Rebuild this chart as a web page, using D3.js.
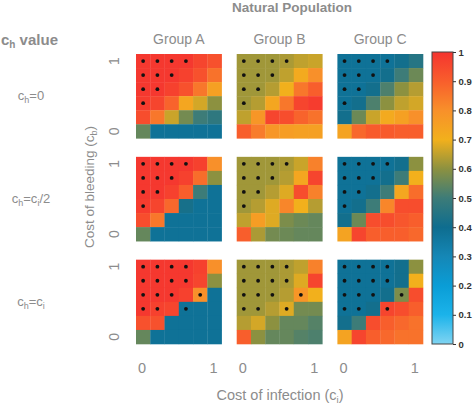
<!DOCTYPE html>
<html><head><meta charset="utf-8">
<script src="https://cdn.jsdelivr.net/npm/d3@7"></script>
<style>body{margin:0;background:#fff}svg{display:block;font-family:"Liberation Sans",Arial,sans-serif}</style>
</head><body><svg id="c" width="473" height="405"></svg>
<script>
// categories
const groups = ["Group A", "Group B", "Group C"];
const ciLevels = [0, 1, 2, 3, 4, 5];
const cbLevels = [5, 4, 3, 2, 1, 0]; // top row = cb 1
const axisTicks = ["0", "1"];
const cbarTicks = [0, 0.1, 0.2, 0.3, 0.4, 0.5, 0.6, 0.7, 0.8, 0.9, 1];

// values (rows top->bottom = cb 1 -> 0, cols = ci 0 -> 1)
const A_ch0 = [
  [0.99,0.99,0.99,0.99,0.96,0.93],
  [0.99,0.99,0.99,0.97,0.93,0.86],
  [0.99,0.99,0.97,0.93,0.85,0.75],
  [0.98,0.96,0.89,0.73,0.67,0.60],
  [0.94,0.85,0.66,0.57,0.50,0.47],
  [0.55,0.38,0.38,0.38,0.38,0.38]];
const B_ch0 = [
  [0.62,0.62,0.62,0.63,0.65,0.66],
  [0.62,0.62,0.62,0.65,0.72,0.80],
  [0.62,0.62,0.64,0.70,0.85,0.90],
  [0.62,0.64,0.73,0.85,0.96,0.98],
  [0.65,0.78,0.96,0.94,0.89,0.86],
  [0.90,0.84,0.78,0.76,0.75,0.75]];
const C_ch0 = [
  [0.38,0.38,0.38,0.38,0.41,0.45],
  [0.38,0.38,0.38,0.41,0.50,0.56],
  [0.38,0.38,0.41,0.52,0.60,0.64],
  [0.38,0.41,0.52,0.60,0.65,0.67],
  [0.41,0.56,0.66,0.72,0.75,0.80],
  [0.74,0.88,0.91,0.91,0.90,0.90]];
const A_chHalf = [
  [0.99,0.99,0.99,0.99,0.97,0.80],
  [0.99,0.99,0.99,0.97,0.87,0.60],
  [0.99,0.99,0.97,0.90,0.50,0.38],
  [0.98,0.96,0.88,0.42,0.38,0.38],
  [0.94,0.85,0.38,0.38,0.38,0.38],
  [0.55,0.38,0.38,0.38,0.38,0.38]];
const B_chHalf = [
  [0.62,0.62,0.62,0.63,0.66,0.83],
  [0.62,0.62,0.62,0.64,0.73,0.96],
  [0.62,0.62,0.64,0.68,0.94,0.83],
  [0.62,0.64,0.68,0.82,0.70,0.64],
  [0.65,0.76,0.68,0.58,0.56,0.55],
  [0.90,0.63,0.57,0.56,0.55,0.55]];
const C_chHalf = [
  [0.38,0.38,0.38,0.38,0.41,0.60],
  [0.38,0.38,0.38,0.41,0.50,0.70],
  [0.38,0.38,0.41,0.50,0.73,0.87],
  [0.38,0.41,0.50,0.82,0.94,0.94],
  [0.41,0.56,0.94,0.94,0.92,0.90],
  [0.74,0.96,0.90,0.90,0.90,0.88]];
const A_chFull = [
  [0.99,0.99,0.99,0.99,0.97,0.80],
  [0.99,0.99,0.99,0.99,0.96,0.60],
  [0.99,0.99,0.99,0.97,0.80,0.38],
  [0.99,0.97,0.96,0.38,0.38,0.38],
  [0.93,0.93,0.38,0.38,0.38,0.38],
  [0.55,0.38,0.38,0.38,0.38,0.38]];
const B_chFull = [
  [0.62,0.62,0.62,0.63,0.65,0.83],
  [0.62,0.62,0.62,0.63,0.68,0.96],
  [0.62,0.62,0.62,0.64,0.78,0.70],
  [0.62,0.62,0.64,0.68,0.57,0.57],
  [0.64,0.67,0.60,0.55,0.55,0.53],
  [0.90,0.60,0.55,0.55,0.53,0.52]];
const C_chFull = [
  [0.38,0.38,0.38,0.38,0.41,0.60],
  [0.38,0.38,0.38,0.38,0.41,0.70],
  [0.38,0.38,0.38,0.41,0.58,0.94],
  [0.38,0.38,0.41,0.96,0.94,0.90],
  [0.41,0.50,0.94,0.90,0.88,0.86],
  [0.74,0.96,0.90,0.88,0.86,0.86]];

// dots (row index, col index) per ch row
const dots_ch0 = [[0,0],[0,1],[0,2],[0,3],[1,0],[1,1],[1,2],[2,0],[2,1],[3,0]];
const dots_chHalf = [[0,0],[0,1],[0,2],[0,3],[1,0],[1,1],[1,2],[2,0],[2,1],[3,0]];
const dots_chFull = [[0,0],[0,1],[0,2],[0,3],[1,0],[1,1],[1,2],[1,3],[2,0],[2,1],[2,2],[2,4],[3,0],[3,1],[3,3]];

// colormap stops
const cmapStops = [0, 0.1, 0.2, 0.3, 0.4, 0.5, 0.6, 0.7, 0.8, 0.9, 1];
const cmapColors = ["#80d4f2","#1bb3ea","#0a9dd6","#1587b6","#0e6d8f","#3d7c78","#8c9140","#f2b01c","#f8902a","#f85e2c","#f5342f"];

const matrices = [[A_ch0, B_ch0, C_ch0],[A_chHalf, B_chHalf, C_chHalf],[A_chFull, B_chFull, C_chFull]];
const dotSets = [dots_ch0, dots_chHalf, dots_chFull];

const svg = d3.select("#c");
const grey = "#8c8c8c";
const color = d3.scaleLinear().domain(cmapStops).range(cmapColors).interpolate(d3.interpolateRgb);

const colX = d3.scaleBand().domain([0,1,2]).range([136, 423]).paddingInner(0.15);
const rowY = d3.scaleBand().domain([0,1,2]).range([54, 344]).paddingInner(0.18);
const size = colX.bandwidth();
const cx = d3.scaleBand().domain(ciLevels).range([0, size]);
const cy = d3.scaleBand().domain(cbLevels).range([0, rowY.bandwidth()]);

matrices.forEach((rowM, r) => {
  rowM.forEach((M, c) => {
    const g = svg.append("g").attr("transform", `translate(${colX(c)},${rowY(r)})`);
    const cells = [];
    M.forEach((row, i) => row.forEach((v, j) => cells.push({i, j, v})));
    g.selectAll("rect").data(cells).join("rect")
      .attr("x", d => cx(ciLevels[d.j]))
      .attr("y", d => cy(cbLevels[d.i]))
      .attr("width", cx.bandwidth() + 0.3)
      .attr("height", cy.bandwidth() + 0.3)
      .attr("fill", d => color(d.v));
    g.selectAll("circle").data(dotSets[r]).join("circle")
      .attr("cx", d => cx(ciLevels[d[1]]) + cx.bandwidth()/2)
      .attr("cy", d => cy(cbLevels[d[0]]) + cy.bandwidth()/2)
      .attr("r", 1.9).attr("fill", "#111");
  });
  // y tick labels
  [ [axisTicks[1], cbLevels[0]], [axisTicks[0], cbLevels[5]] ].forEach(([t, lv]) => {
    const yy = rowY(r) + cy(lv) + cy.bandwidth()/2;
    svg.append("text").attr("transform", `translate(119,${yy}) rotate(-90)`)
      .attr("text-anchor", "middle").attr("font-size", 14).attr("fill", grey).text(t);
  });
});

// x tick labels and group titles
[0,1,2].forEach(c => {
  [[axisTicks[0], ciLevels[0]], [axisTicks[1], ciLevels[5]]].forEach(([t, lv]) => {
    svg.append("text").attr("x", colX(c) + cx(lv) + cx.bandwidth()/2 - 1).attr("y", 373)
      .attr("text-anchor", "middle").attr("font-size", 14.5).attr("fill", grey).text(t);
  });
  svg.append("text").attr("x", colX(c) + size/2).attr("y", 44)
    .attr("text-anchor", "middle").attr("font-size", 14).attr("fill", grey).text(groups[c]);
});

// title
svg.append("text").attr("x", 292).attr("y", 12).attr("text-anchor", "middle")
  .attr("font-size", 13.5).attr("font-weight", "bold").attr("fill", grey).text("Natural Population");

// ch value
const chv = svg.append("text").attr("x", 1).attr("y", 45).attr("font-size", 15)
  .attr("font-weight", "bold").attr("fill", grey);
chv.append("tspan").attr("fill", grey).text("c");
chv.append("tspan").attr("fill", grey).attr("font-size", 10).attr("dy", 3).text("h");
chv.append("tspan").attr("fill", grey).attr("dy", -3).text(" value");

// row labels
const rowLabelParts = [
  [["c",0],["h",1],["=0",0]],
  [["c",0],["h",1],["=c",0],["i",1],["/2",0]],
  [["c",0],["h",1],["=c",0],["i",1]]
];
rowLabelParts.forEach((parts, r) => {
  const t = svg.append("text").attr("x", 31).attr("y", rowY(r) + rowY.bandwidth()/2 + 4)
    .attr("text-anchor", "middle").attr("font-size", 13).attr("fill", grey);
  let low = false;
  parts.forEach(([s, sub]) => {
    const dy = sub ? (low ? 0 : 3) : (low ? -3 : 0);
    t.append("tspan").attr("fill", grey).attr("font-size", sub ? 9 : 13).attr("dy", dy).text(s);
    low = !!sub;
  });
});

// axis titles
const yl = svg.append("text").attr("transform", "translate(94,187) rotate(-90)")
  .attr("text-anchor", "middle").attr("font-size", 13.5).attr("fill", grey);
yl.append("tspan").attr("fill", grey).text("Cost of bleeding (c");
yl.append("tspan").attr("fill", grey).attr("font-size", 9).attr("dy", 3).text("b");
yl.append("tspan").attr("fill", grey).attr("dy", -3).text(")");

const xl = svg.append("text").attr("x", 280).attr("y", 400)
  .attr("text-anchor", "middle").attr("font-size", 14.5).attr("fill", grey);
xl.append("tspan").attr("fill", grey).text("Cost of infection (c");
xl.append("tspan").attr("fill", grey).attr("font-size", 9.5).attr("dy", 3).text("i");
xl.append("tspan").attr("fill", grey).attr("dy", -3).text(")");

// colorbar
const cbY = d3.scaleLinear().domain([0, 1]).range([344, 52]);
const defs = svg.append("defs");
const grad = defs.append("linearGradient").attr("id", "cg").attr("x1", 0).attr("y1", 1).attr("x2", 0).attr("y2", 0);
cmapStops.forEach((s, i) => grad.append("stop").attr("offset", s).attr("stop-color", cmapColors[i]));
svg.append("rect").attr("x", 432).attr("y", cbY(1)).attr("width", 21).attr("height", cbY(0) - cbY(1))
  .attr("fill", "url(#cg)").attr("stroke", "#444").attr("stroke-width", 1);
const cbAxis = d3.axisRight(cbY).tickValues(cbarTicks).tickSize(3).tickFormat(d => d3.format("")(d));
const ag = svg.append("g").attr("transform", "translate(453,0)").call(cbAxis);
ag.select(".domain").remove();
ag.selectAll("line").attr("stroke", "#333");
ag.selectAll("text").attr("font-size", 9.5).attr("font-weight", "bold").attr("fill", "#333")
  .attr("font-family", "'Liberation Sans',Arial,sans-serif").attr("x", 5.5);
</script></body></html>
